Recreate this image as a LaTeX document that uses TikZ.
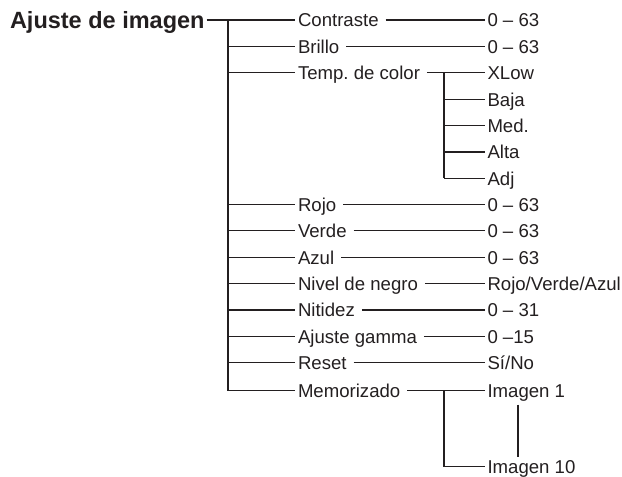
\documentclass[tikz,border=0pt]{standalone}
\usepackage{fontspec}
\setmainfont{Liberation Sans}
\usetikzlibrary{positioning}
\definecolor{ink}{HTML}{231F20}
\tikzset{
  item/.style={anchor=west, inner sep=0pt, outer sep=0pt, text height=13.6pt, text depth=0pt, font=\fontsize{18.6}{22}\selectfont, text=ink},
  heading/.style={item, text height=16.8pt, font=\fontsize{23.5}{28}\selectfont\bfseries},
  tree/.style={draw=ink, line width=1.1pt},
  row/.style={below=12.8pt of #1.south west, anchor=north west}
}

\begin{document}
\begin{tikzpicture}[x=1pt, y=-1pt]
    \useasboundingbox (0,0) rectangle (622,477);

    % === Heading and main column ===
    \node (title) [heading] at (10,20) {Ajuste de imagen};
    \coordinate (trunk) at (228,20);
    \coordinate (vcol) at (487.5,20);

    \node (contraste) [item] at (298,20) {Contraste};
    \node (brillo) [item, row=contraste] {Brillo};
    \node (temp) [item, row=brillo] {Temp.\ de color};
    \node (rojo) [item, below=118pt of temp.south west, anchor=north west] {Rojo};
    \node (verde) [item, row=rojo] {Verde};
    \node (azul) [item, row=verde] {Azul};
    \node (nivel) [item, row=azul] {Nivel de negro};
    \node (nitidez) [item, row=nivel] {Nitidez};
    \node (gamma) [item, row=nitidez] {Ajuste gamma};
    \node (reset) [item, row=gamma] {Reset};
    \node (memo) [item, below=14.4pt of reset.south west, anchor=north west] {Memorizado};

    % === Value column ===
    \node (vcontraste) [item] at (vcol |- contraste.west) {0 -- 63};
    \node (vbrillo) [item] at (vcol |- brillo.west) {0 -- 63};
    \node (xlow) [item] at (vcol |- temp.west) {XLow};
    \node (baja) [item, row=xlow] {Baja};
    \node (med) [item, row=baja] {Med.};
    \node (alta) [item, row=med] {Alta};
    \node (adj) [item, row=alta] {Adj};
    \node (vrojo) [item] at (vcol |- rojo.west) {0 -- 63};
    \node (vverde) [item] at (vcol |- verde.west) {0 -- 63};
    \node (vazul) [item] at (vcol |- azul.west) {0 -- 63};
    \node (vnivel) [item] at (vcol |- nivel.west) {Rojo/Verde/Azul};
    \node (vnitidez) [item] at (vcol |- nitidez.west) {0 -- 31};
    \node (vgamma) [item] at (vcol |- gamma.west) {0 --15};
    \node (vreset) [item] at (vcol |- reset.west) {Sí/No};
    \node (img1) [item] at (vcol |- memo.west) {Imagen 1};
    \node (img10) [item, below=62.4pt of img1.south west, anchor=north west] {Imagen 10};

    % === Main trunk ===
    \draw [tree] ([xshift=2pt]title.east) -- ([xshift=-3pt]contraste.west);
    \draw [tree] (trunk) -- (trunk |- memo.west);
    \foreach \n in {brillo,temp,rojo,verde,azul,nivel,nitidez,gamma,reset,memo}
        \draw [tree] (trunk |- \n.west) -- ([xshift=-3pt]\n.west);

    % Item to value
    \foreach \a/\b in {contraste/vcontraste, brillo/vbrillo, temp/xlow, rojo/vrojo, verde/vverde,
                       azul/vazul, nivel/vnivel, nitidez/vnitidez, gamma/vgamma, reset/vreset, memo/img1}
        \draw [tree] ([xshift=7pt]\a.east) -- ([xshift=-2.5pt]\b.west);

    % Temp. de color choices
    \coordinate (tsub) at (444,0);
    \draw [tree] (tsub |- xlow.west) -- (tsub |- adj.west);
    \foreach \n in {baja,med,alta,adj}
        \draw [tree] (tsub |- \n.west) -- ([xshift=-2.5pt]\n.west);

    % Memorizado slots
    \draw [tree] (tsub |- img1.west) -- (tsub |- img10.west) -- ([xshift=-2.5pt]img10.west);
    \draw [tree] ([xshift=30.5pt,yshift=-7pt]img1.south west) -- ([xshift=30.5pt,yshift=3.5pt]img10.north west);
\end{tikzpicture}
\end{document}
